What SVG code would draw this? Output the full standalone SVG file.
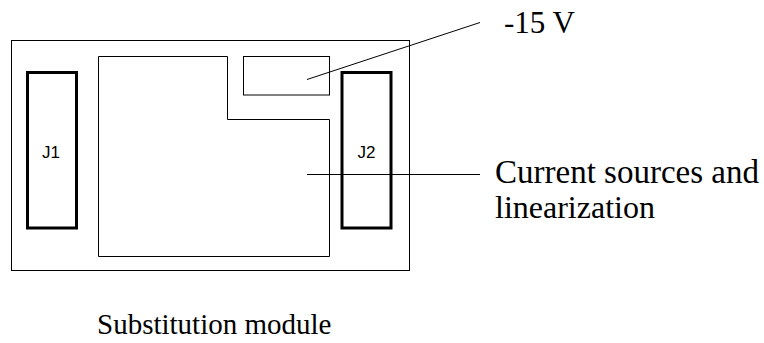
<svg xmlns="http://www.w3.org/2000/svg" width="764" height="343" viewBox="0 0 764 343">
<style>
.thin{fill:none;stroke:#000;stroke-width:1}
.conn{fill:none;stroke:#000;stroke-width:3}
.lead{fill:none;stroke:#000;stroke-width:1}
.lbl{font-family:"Liberation Serif",serif;font-size:31px;fill:#000}
.jl{font-family:"Liberation Sans",Arial,sans-serif;font-size:17px;fill:#000}
</style>
<rect width="764" height="343" fill="#fff"/>
<g id="module">
<rect class="thin" x="11.5" y="40.5" width="398" height="230"/>
</g>
<g id="J1">
<rect class="conn" x="27.5" y="72.5" width="49" height="155.5"/>
<text class="jl" x="51" y="158" text-anchor="middle">J1</text>
</g>
<g id="J2">
<rect class="conn" x="342" y="72.5" width="49" height="155.5"/>
<text class="jl" x="366.5" y="158" text-anchor="middle">J2</text>
</g>
<g id="current-sources">
<path class="thin" d="M98.5,56.5 H227.5 V119.5 H329.5 V256.5 H98.5 Z"/>
</g>
<g id="minus15">
<rect class="thin" x="243.5" y="56.5" width="86" height="38.5"/>
</g>
<g id="connectors">
<line class="lead" x1="307" y1="79.5" x2="480" y2="22.5"/>
<line class="lead" x1="307" y1="174.5" x2="480" y2="174.5"/>
</g>
<g id="labels">
<text class="lbl" x="504" y="33">-15 V</text>
<text class="lbl" x="495" y="183" style="font-size:33px">Current sources and</text>
<text class="lbl" x="495" y="218" style="font-size:32px">linearization</text>
<text class="lbl" x="97" y="334" style="font-size:29px">Substitution module</text>
</g>
</svg>
